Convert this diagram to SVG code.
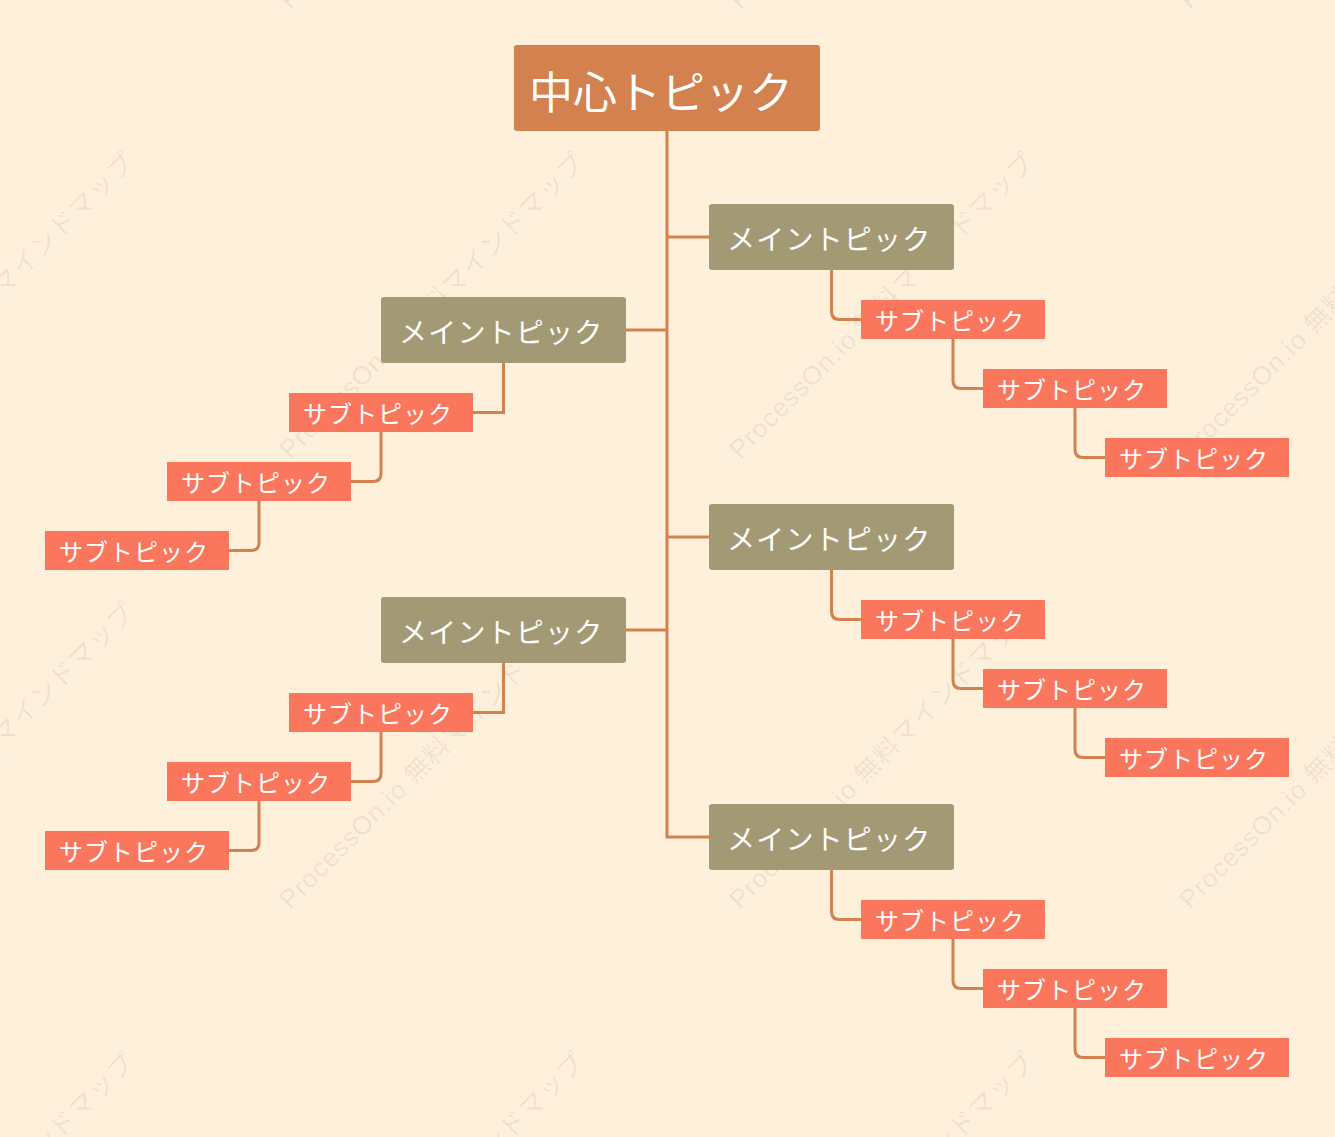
<svg xmlns="http://www.w3.org/2000/svg" width="1335" height="1137" viewBox="0 0 1335 1137">
<style>
.wm{font-family:"Liberation Sans","Noto Sans CJK JP",sans-serif;font-size:26px;fill:#000;fill-opacity:0.075;letter-spacing:1px}
.t{font-family:"Noto Sans CJK JP","Noto Sans CJK SC",sans-serif;fill:#fff;font-weight:400}
.c{fill:#D3814F}
.m{fill:#A39A75}
.s{fill:#FA765C}
.tc{font-size:44px}
.tm{font-size:28px;letter-spacing:1.2px}
.ts{font-size:24px;letter-spacing:1px}
.ln{fill:none;stroke:#D3814F;stroke-width:3}
</style>
<rect width="1335" height="1137" fill="#FFF0DC"/>
<g id="watermarks">
<text class="wm" transform="translate(290,10) rotate(-45)">ProcessOn.io 無料マインドマップ</text>
<text class="wm" transform="translate(740,10) rotate(-45)">ProcessOn.io 無料マインドマップ</text>
<text class="wm" transform="translate(1190,10) rotate(-45)">ProcessOn.io 無料マインドマップ</text>
<text class="wm" transform="translate(-160,460) rotate(-45)">ProcessOn.io 無料マインドマップ</text>
<text class="wm" transform="translate(290,460) rotate(-45)">ProcessOn.io 無料マインドマップ</text>
<text class="wm" transform="translate(740,460) rotate(-45)">ProcessOn.io 無料マインドマップ</text>
<text class="wm" transform="translate(1190,460) rotate(-45)">ProcessOn.io 無料マインドマップ</text>
<text class="wm" transform="translate(-160,910) rotate(-45)">ProcessOn.io 無料マインドマップ</text>
<text class="wm" transform="translate(290,910) rotate(-45)">ProcessOn.io 無料マインドマップ</text>
<text class="wm" transform="translate(740,910) rotate(-45)">ProcessOn.io 無料マインドマップ</text>
<text class="wm" transform="translate(1190,910) rotate(-45)">ProcessOn.io 無料マインドマップ</text>
<text class="wm" transform="translate(-160,1360) rotate(-45)">ProcessOn.io 無料マインドマップ</text>
<text class="wm" transform="translate(290,1360) rotate(-45)">ProcessOn.io 無料マインドマップ</text>
<text class="wm" transform="translate(740,1360) rotate(-45)">ProcessOn.io 無料マインドマップ</text>
</g>
<g id="connectors">
<path class="ln" d="M667,131 V837 H709"/>
<path class="ln" d="M667,237 H709 M667,537 H709 M626,330 H667 M626,630 H667"/>
<path class="ln" d="M831.5,270 V311.5 Q831.5,319.5 839.5,319.5 H861"/>
<path class="ln" d="M953,339 V380.5 Q953,388.5 961,388.5 H983"/>
<path class="ln" d="M1075,408 V449.5 Q1075,457.5 1083,457.5 H1105"/>
<path class="ln" d="M831.5,570 V611.5 Q831.5,619.5 839.5,619.5 H861"/>
<path class="ln" d="M953,639 V680.5 Q953,688.5 961,688.5 H983"/>
<path class="ln" d="M1075,708 V749.5 Q1075,757.5 1083,757.5 H1105"/>
<path class="ln" d="M831.5,870 V911.5 Q831.5,919.5 839.5,919.5 H861"/>
<path class="ln" d="M953,939 V980.5 Q953,988.5 961,988.5 H983"/>
<path class="ln" d="M1075,1008 V1049.5 Q1075,1057.5 1083,1057.5 H1105"/>
<path class="ln" d="M503.5,363 V412.5 H473"/>
<path class="ln" d="M381,432 V473.5 Q381,481.5 373,481.5 H351"/>
<path class="ln" d="M259,501 V542.5 Q259,550.5 251,550.5 H229"/>
<path class="ln" d="M503.5,663 V712.5 H473"/>
<path class="ln" d="M381,732 V773.5 Q381,781.5 373,781.5 H351"/>
<path class="ln" d="M259,801 V842.5 Q259,850.5 251,850.5 H229"/>
</g>
<g id="center">
<rect class="c" x="514" y="45" width="306" height="86" rx="3"/>
<text class="t tc" x="529" y="108.5">中心トピック</text>
</g>
<g id="main-r1"><rect class="m" x="709" y="204" width="245" height="66" rx="3"/><text class="t tm" x="727" y="250">メイントピック</text></g>
<g id="main-r2"><rect class="m" x="709" y="504" width="245" height="66" rx="3"/><text class="t tm" x="727" y="550">メイントピック</text></g>
<g id="main-r3"><rect class="m" x="709" y="804" width="245" height="66" rx="3"/><text class="t tm" x="727" y="850">メイントピック</text></g>
<g id="main-l1"><rect class="m" x="381" y="297" width="245" height="66" rx="3"/><text class="t tm" x="399" y="343">メイントピック</text></g>
<g id="main-l2"><rect class="m" x="381" y="597" width="245" height="66" rx="3"/><text class="t tm" x="399" y="643">メイントピック</text></g>
<g id="sub-r1a"><rect class="s" x="861" y="300" width="184" height="39"/><text class="t ts" x="875" y="330">サブトピック</text></g>
<g id="sub-r1b"><rect class="s" x="983" y="369" width="184" height="39"/><text class="t ts" x="997" y="399">サブトピック</text></g>
<g id="sub-r1c"><rect class="s" x="1105" y="438" width="184" height="39"/><text class="t ts" x="1119" y="468">サブトピック</text></g>
<g id="sub-r2a"><rect class="s" x="861" y="600" width="184" height="39"/><text class="t ts" x="875" y="630">サブトピック</text></g>
<g id="sub-r2b"><rect class="s" x="983" y="669" width="184" height="39"/><text class="t ts" x="997" y="699">サブトピック</text></g>
<g id="sub-r2c"><rect class="s" x="1105" y="738" width="184" height="39"/><text class="t ts" x="1119" y="768">サブトピック</text></g>
<g id="sub-r3a"><rect class="s" x="861" y="900" width="184" height="39"/><text class="t ts" x="875" y="930">サブトピック</text></g>
<g id="sub-r3b"><rect class="s" x="983" y="969" width="184" height="39"/><text class="t ts" x="997" y="999">サブトピック</text></g>
<g id="sub-r3c"><rect class="s" x="1105" y="1038" width="184" height="39"/><text class="t ts" x="1119" y="1068">サブトピック</text></g>
<g id="sub-l1a"><rect class="s" x="289" y="393" width="184" height="39"/><text class="t ts" x="303" y="423">サブトピック</text></g>
<g id="sub-l1b"><rect class="s" x="167" y="462" width="184" height="39"/><text class="t ts" x="181" y="492">サブトピック</text></g>
<g id="sub-l1c"><rect class="s" x="45" y="531" width="184" height="39"/><text class="t ts" x="59" y="561">サブトピック</text></g>
<g id="sub-l2a"><rect class="s" x="289" y="693" width="184" height="39"/><text class="t ts" x="303" y="723">サブトピック</text></g>
<g id="sub-l2b"><rect class="s" x="167" y="762" width="184" height="39"/><text class="t ts" x="181" y="792">サブトピック</text></g>
<g id="sub-l2c"><rect class="s" x="45" y="831" width="184" height="39"/><text class="t ts" x="59" y="861">サブトピック</text></g>
</svg>
